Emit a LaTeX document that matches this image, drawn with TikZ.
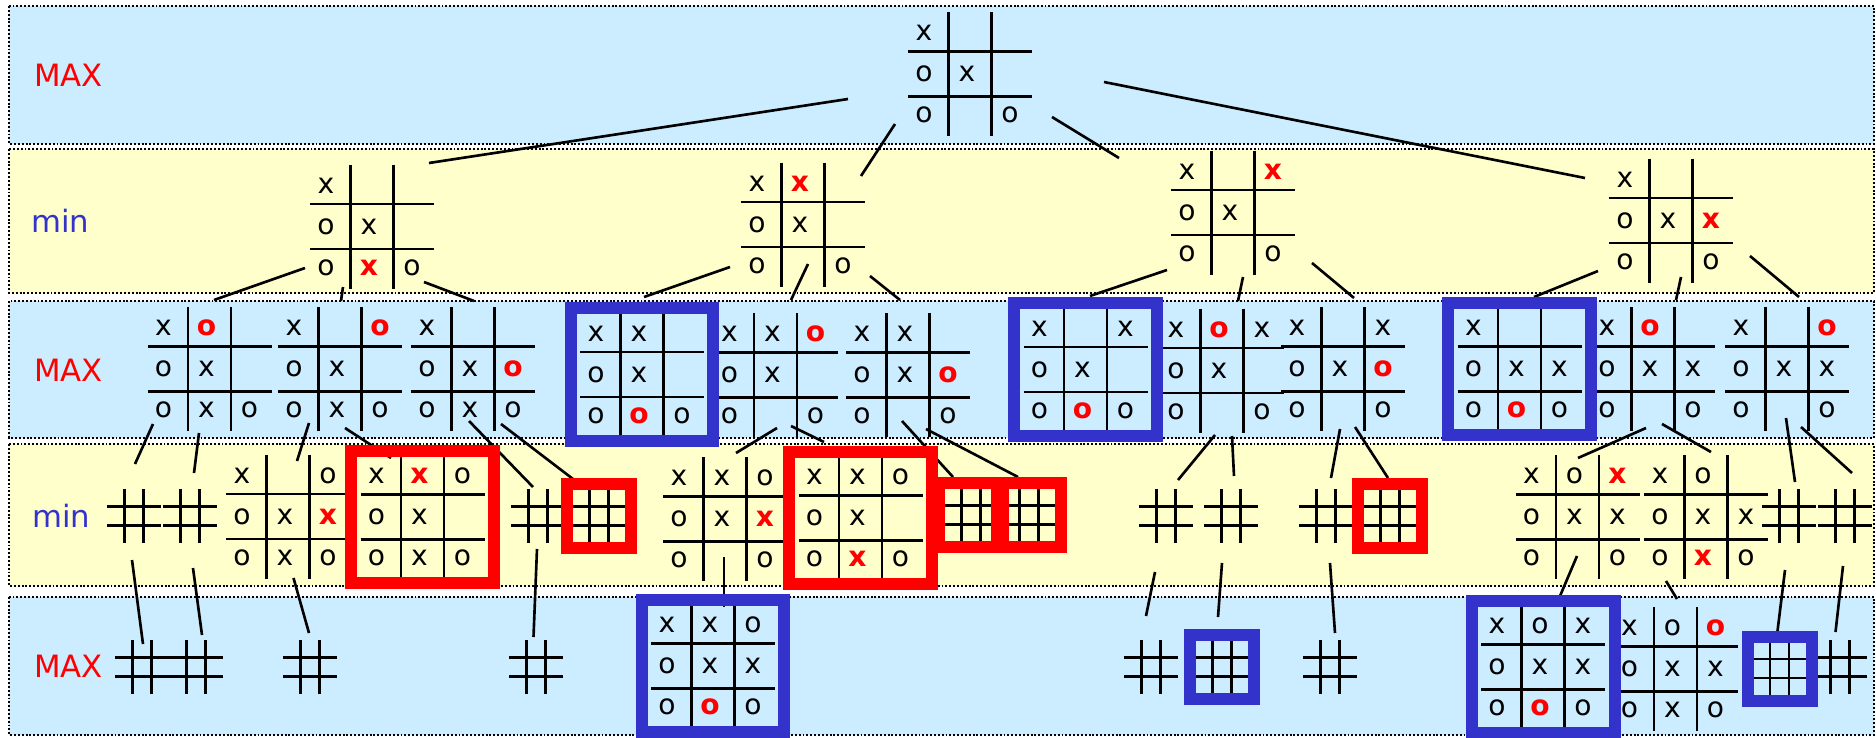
\documentclass[tikz,border=0pt]{standalone}
\usepackage{fontspec}
\setmainfont{DejaVu Sans}
\usepackage{tikz}
\definecolor{maxblue}{RGB}{204,236,255}
\definecolor{minyellow}{RGB}{255,255,204}
\definecolor{maxred}{RGB}{255,0,0}
\definecolor{minblue}{RGB}{51,51,204}
\tikzset{
    band/.style={
        draw=black,
        line width=1.1pt,
        dash pattern=on 1.1pt off 1.1pt
    },
    maxband/.style={band, fill=maxblue},
    minband/.style={band, fill=minyellow},
    maxlab/.style={
        anchor=base west,
        inner sep=0pt,
        text=maxred,
        font=\fontsize{17.5}{20}\selectfont
    },
    minlab/.style={
        anchor=base west,
        inner sep=0pt,
        text=minblue,
        font=\fontsize{17.5}{20}\selectfont
    },
    ttt/.style={inner sep=0pt, minimum size=2.5cm},
    hash/.style={inner sep=0pt, minimum size=1.08cm},
    gridline/.style={line width=1.6pt},
    cellmark/.style={inner sep=0pt, font=\fontsize{16}{19}\selectfont},
    link/.style={line width=1.5pt},
    redbox/.style={
        draw=maxred,
        line width=0.24cm,
        inner sep=0pt,
        minimum width=2.86cm,
        minimum height=2.66cm
    },
    bluebox/.style={
        draw=minblue,
        line width=0.24cm,
        inner sep=0pt,
        minimum width=2.86cm,
        minimum height=2.66cm
    },
    redhash/.style={draw=maxred, line width=0.24cm, inner sep=0pt, minimum size=1.28cm},
    bluehash/.style={draw=minblue, line width=0.24cm, inner sep=0pt, minimum size=1.28cm}
}
\newcommand{\lastx}{\textcolor{maxred}{\bfseries x}}
\newcommand{\lasto}{\textcolor{maxred}{\bfseries o}}
% board grid and marks, row by row
\newcommand{\ttgrid}[2]{%
    \begin{scope}[shift={(#1.center)}]
        \draw[gridline] (-21.5,-62) -- (-21.5,62) (21.5,-62) -- (21.5,62)
            (-62,-22.5) -- (62,-22.5) (-62,22.5) -- (62,22.5);
        \foreach \m [count=\i from 0] in {#2} {
            \pgfmathsetmacro\cx{43*mod(\i,3)-46}
            \pgfmathsetmacro\cy{41*div(\i,3)-41}
            \node[cellmark] (#1-\i) at (\cx,\cy) {\m};
        }
    \end{scope}}
% small empty board
\newcommand{\hashgrid}[1]{%
    \begin{scope}[shift={(#1.center)}]
        \draw[gridline] (-9.5,-27) -- (-9.5,27) (9.5,-27) -- (9.5,27)
            (-27,-9.5) -- (27,-9.5) (-27,9.5) -- (27,9.5);
    \end{scope}}

\begin{document}
\begin{tikzpicture}[x=0.02cm, y=-0.02cm]
\useasboundingbox (0,0) rectangle (1876,737);

% levels
\draw[maxband] (9,6) rectangle (1874,144);
\draw[minband] (9,149) rectangle (1874,293);
\draw[maxband] (9,301) rectangle (1874,438);
\draw[minband] (9,444) rectangle (1874,586);
\draw[maxband] (9,597) rectangle (1874,735);

\node[maxlab] (lmax1) at (34,86) {MAX};
\node[minlab] (lmin1) at (31,232) {min};
\node[maxlab] (lmax2) at (34,381) {MAX};
\node[minlab] (lmin2) at (32,527) {min};
\node[maxlab] (lmax3) at (34,677) {MAX};

% positions
\node[ttt] (r) at (970,74) {};
\node[ttt] (a) at (372,226.5) {};
\node[ttt] (b) at (803,224.5) {};
\node[ttt] (c) at (1233,212.5) {};
\node[ttt] (d) at (1671,220.5) {};
\node[ttt] (a1) at (209.5,369) {};
\node[ttt] (a2) at (340,369) {};
\node[ttt] (a3) at (473,369) {};
\node[ttt] (b1) at (642,374.5) {};
\node[ttt] (b2) at (775.5,375) {};
\node[ttt] (b3) at (908,375) {};
\node[ttt] (c1) at (1085.5,369.5) {};
\node[ttt] (c2) at (1222,370.5) {};
\node[ttt] (c3) at (1343,369) {};
\node[ttt] (d1) at (1519.5,369) {};
\node[ttt] (d2) at (1653,369) {};
\node[ttt] (d3) at (1787,369) {};
\node[hash] (a1a) at (134,516) {};
\node[hash] (a1b) at (190,516) {};
\node[ttt] (a2a) at (288,516.5) {};
\node[ttt] (a2b) at (422.5,517) {};
\node[hash] (a3a) at (538,516) {};
\node[hash] (a3b) at (599,516) {};
\node[ttt] (b2a) at (725,519) {};
\node[ttt] (b2b) at (860.5,518) {};
\node[hash] (b3a) at (971,515) {};
\node[hash] (b3b) at (1029,515) {};
\node[hash] (c2a) at (1166,516) {};
\node[hash] (c2b) at (1231,516) {};
\node[hash] (c3a) at (1326,516) {};
\node[hash] (c3b) at (1390,516) {};
\node[ttt] (d2a) at (1577.5,517) {};
\node[ttt] (d2b) at (1706,517) {};
\node[hash] (d3a) at (1789,516) {};
\node[hash] (d3b) at (1845,516) {};
\node[hash] (a1a1) at (142,667) {};
\node[hash] (a1b1) at (196,667) {};
\node[hash] (a2a1) at (310,667) {};
\node[hash] (a3a1) at (536,667) {};
\node[ttt] (b2a1) at (713,666) {};
\node[hash] (c2a1) at (1151,667) {};
\node[hash] (c2b1) at (1222,667) {};
\node[hash] (c3a1) at (1330,667) {};
\node[ttt] (d2a1) at (1543,667) {};
\node[ttt] (d2b1) at (1675.5,669) {};
\node[hash] (d3a1) at (1779.5,668.5) {};
\node[hash] (d3b1) at (1840,667) {};

% tree edges
\draw[link] ([shift={(-122,25)}]r.center) -- ([shift={(57,-63.5)}]a.center);
\draw[link] ([shift={(-75,50)}]r.center) -- ([shift={(58,-48.5)}]b.center);
\draw[link] ([shift={(82,43)}]r.center) -- ([shift={(-114,-54.5)}]c.center);
\draw[link] ([shift={(134,8)}]r.center) -- ([shift={(-86,-42.5)}]d.center);

\draw[link] ([shift={(-67,41.5)}]a.center) -- ([shift={(4.5,-69)}]a1.center);
\draw[link] ([shift={(-29,60.5)}]a.center) -- ([shift={(1,-68)}]a2.center);
\draw[link] ([shift={(52,55.5)}]a.center) -- ([shift={(1,-68)}]a3.center);
\draw[link] ([shift={(-73,42.5)}]b.center) -- ([shift={(2,-77.5)}]b1.center);
\draw[link] ([shift={(5,39.5)}]b.center) -- ([shift={(15.5,-75)}]b2.center);
\draw[link] ([shift={(67,51.5)}]b.center) -- ([shift={(-8,-75)}]b3.center);
\draw[link] ([shift={(-66,57.5)}]c.center) -- ([shift={(4.5,-73.5)}]c1.center);
\draw[link] ([shift={(10,64.5)}]c.center) -- ([shift={(16,-69.5)}]c2.center);
\draw[link] ([shift={(79,50.5)}]c.center) -- ([shift={(11,-71)}]c3.center);
\draw[link] ([shift={(-73,50.5)}]d.center) -- ([shift={(14.5,-72)}]d1.center);
\draw[link] ([shift={(10,56.5)}]d.center) -- ([shift={(23,-69)}]d2.center);
\draw[link] ([shift={(79,35.5)}]d.center) -- ([shift={(12,-72)}]d3.center);

\draw[link] ([shift={(-56.5,55)}]a1.center) -- ([shift={(1,-52)}]a1a.center);
\draw[link] ([shift={(-10.5,64)}]a1.center) -- ([shift={(4,-43)}]a1b.center);
\draw[link] ([shift={(-31,54)}]a2.center) -- ([shift={(9,-55.5)}]a2a.center);
\draw[link] ([shift={(5,59)}]a2.center) -- ([shift={(-31.5,-59)}]a2b.center);
\draw[link] ([shift={(-4,52)}]a3.center) -- ([shift={(-5,-29)}]a3a.center);
\draw[link] ([shift={(28,55)}]a3.center) -- ([shift={(-26,-37)}]a3b.center);
\draw[link] ([shift={(1.5,53)}]b2.center) -- ([shift={(11,-66)}]b2a.center);
\draw[link] ([shift={(15.5,51)}]b2.center) -- ([shift={(-36.5,-76)}]b2b.center);
\draw[link] ([shift={(-6,46)}]b3.center) -- ([shift={(-18,-38)}]b3a.center);
\draw[link] ([shift={(18,54)}]b3.center) -- ([shift={(-11,-38)}]b3b.center);
\draw[link] ([shift={(-7,64.5)}]c2.center) -- ([shift={(12,-36)}]c2a.center);
\draw[link] ([shift={(10,65.5)}]c2.center) -- ([shift={(3,-40)}]c2b.center);
\draw[link] ([shift={(-3,60)}]c3.center) -- ([shift={(5,-38)}]c3a.center);
\draw[link] ([shift={(12,58)}]c3.center) -- ([shift={(-2,-38)}]c3b.center);
\draw[link] ([shift={(-7,59)}]d2.center) -- ([shift={(0.5,-59)}]d2a.center);
\draw[link] ([shift={(9,55)}]d2.center) -- ([shift={(5,-65)}]d2b.center);
\draw[link] ([shift={(-1,49)}]d3.center) -- ([shift={(6,-34)}]d3a.center);
\draw[link] ([shift={(14,58)}]d3.center) -- ([shift={(7,-43)}]d3b.center);

\draw[link] ([shift={(-2,44)}]a1a.center) -- ([shift={(1,-23)}]a1a1.center);
\draw[link] ([shift={(3,52)}]a1b.center) -- ([shift={(6,-32)}]a1b1.center);
\draw[link] ([shift={(5.5,61.5)}]a2a.center) -- ([shift={(-1,-34)}]a2a1.center);
\draw[link] ([shift={(-1,33)}]a3a.center) -- ([shift={(-2.5,-30)}]a3a1.center);
\draw[link] ([shift={(-1,38)}]b2a.center) -- ([shift={(11,-59)}]b2a1.center);
\draw[link] ([shift={(-11,56)}]c2a.center) -- ([shift={(-5,-51)}]c2a1.center);
\draw[link] ([shift={(-9,47)}]c2b.center) -- ([shift={(-4,-50)}]c2b1.center);
\draw[link] ([shift={(4,47)}]c3a.center) -- ([shift={(5,-34)}]c3a1.center);
\draw[link] ([shift={(-0.5,39)}]d2a.center) -- ([shift={(17,-71)}]d2a1.center);
\draw[link] ([shift={(-40,64)}]d2b.center) -- ([shift={(1.5,-70)}]d2b1.center);
\draw[link] ([shift={(-4,54)}]d3a.center) -- ([shift={(-2,-37.5)}]d3a1.center);
\draw[link] ([shift={(-2,50)}]d3b.center) -- ([shift={(-4.5,-35)}]d3b1.center);

% boards
\ttgrid{r}{x,{},{},o,x,{},o,{},o}
\ttgrid{a}{x,{},{},o,x,{},o,\lastx,o}
\ttgrid{b}{x,\lastx,{},o,x,{},o,{},o}
\ttgrid{c}{x,{},\lastx,o,x,{},o,{},o}
\ttgrid{d}{x,{},{},o,x,\lastx,o,{},o}
\ttgrid{a1}{x,\lasto,{},o,x,{},o,x,o}
\ttgrid{a2}{x,{},\lasto,o,x,{},o,x,o}
\ttgrid{a3}{x,{},{},o,x,\lasto,o,x,o}
\ttgrid{b1}{x,x,{},o,x,{},o,\lasto,o}
\ttgrid{b2}{x,x,\lasto,o,x,{},o,{},o}
\ttgrid{b3}{x,x,{},o,x,\lasto,o,{},o}
\ttgrid{c1}{x,{},x,o,x,{},o,\lasto,o}
\ttgrid{c2}{x,\lasto,x,o,x,{},o,{},o}
\ttgrid{c3}{x,{},x,o,x,\lasto,o,{},o}
\ttgrid{d1}{x,{},{},o,x,x,o,\lasto,o}
\ttgrid{d2}{x,\lasto,{},o,x,x,o,{},o}
\ttgrid{d3}{x,{},\lasto,o,x,x,o,{},o}
\ttgrid{a2a}{x,{},o,o,x,\lastx,o,x,o}
\ttgrid{a2b}{x,\lastx,o,o,x,{},o,x,o}
\ttgrid{b2a}{x,x,o,o,x,\lastx,o,{},o}
\ttgrid{b2b}{x,x,o,o,x,{},o,\lastx,o}
\ttgrid{d2a}{x,o,\lastx,o,x,x,o,{},o}
\ttgrid{d2b}{x,o,{},o,x,x,o,\lastx,o}
\ttgrid{b2a1}{x,x,o,o,x,x,o,\lasto,o}
\ttgrid{d2a1}{x,o,x,o,x,x,o,\lasto,o}
\ttgrid{d2b1}{x,o,\lasto,o,x,x,o,x,o}
\hashgrid{a1a}
\hashgrid{a1b}
\hashgrid{a3a}
\hashgrid{a3b}
\hashgrid{b3a}
\hashgrid{b3b}
\hashgrid{c2a}
\hashgrid{c2b}
\hashgrid{c3a}
\hashgrid{c3b}
\hashgrid{d3a}
\hashgrid{d3b}
\hashgrid{a1a1}
\hashgrid{a1b1}
\hashgrid{a2a1}
\hashgrid{a3a1}
\hashgrid{c2a1}
\hashgrid{c2b1}
\hashgrid{c3a1}
\hashgrid{d3a1}
\hashgrid{d3b1}

% chosen moves
\node[bluebox] (b1box) at (b1) {};
\node[bluebox] (c1box) at (c1) {};
\node[bluebox] (d1box) at (d1) {};
\node[redbox] (a2bbox) at (a2b) {};
\node[redbox] (b2bbox) at (b2b) {};
\node[redhash] (a3bbox) at (a3b) {};
\node[redhash] (b3abox) at (b3a) {};
\node[redhash] (b3bbox) at (b3b) {};
\node[redhash] (c3bbox) at (c3b) {};
\node[bluebox] (b2a1box) at (b2a1) {};
\node[bluebox] (d2a1box) at (d2a1) {};
\node[bluehash] (c2b1box) at (c2b1) {};
\node[bluehash] (d3a1box) at (d3a1) {};

\end{tikzpicture}
\end{document}
